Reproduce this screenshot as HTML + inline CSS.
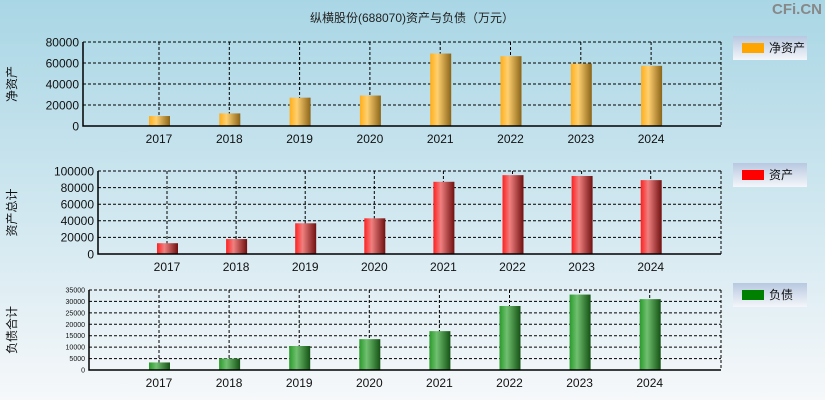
<!DOCTYPE html>
<html><head><meta charset="utf-8"><style>
html,body{margin:0;padding:0;width:825px;height:400px;overflow:hidden}
body{background:linear-gradient(#a9d6e5 0%,#d2e8f0 55%,#f6f8fa 100%);font-family:"Liberation Sans","Noto Sans CJK SC",sans-serif}
</style></head><body>
<svg id="c" width="825" height="400" xmlns="http://www.w3.org/2000/svg" style="position:absolute;left:0;top:0">
<defs>
<linearGradient id="gO" x1="0" x2="1"><stop offset="0" stop-color="#ffae1a"/><stop offset="0.35" stop-color="#ffd070"/><stop offset="1" stop-color="#8a6418"/></linearGradient>
<linearGradient id="gR" x1="0" x2="1"><stop offset="0" stop-color="#ff2020"/><stop offset="0.35" stop-color="#f08080"/><stop offset="1" stop-color="#701010"/></linearGradient>
<linearGradient id="gG" x1="0" x2="1"><stop offset="0" stop-color="#2a9a2a"/><stop offset="0.35" stop-color="#70c070"/><stop offset="1" stop-color="#145214"/></linearGradient>
<linearGradient id="gL" x1="0" y1="0" x2="0" y2="1"><stop offset="0" stop-color="#b8c8e0"/><stop offset="1" stop-color="#f4f6fa"/></linearGradient>
</defs>
<text x="412" y="22" font-size="12" text-anchor="middle" fill="#222">纵横股份(688070)资产与负债（万元）</text>
<text x="822" y="14" font-size="15" font-weight="bold" text-anchor="end" fill="#888">CFi.CN</text>
</svg>
<script>
const years=["2017","2018","2019","2020","2021","2022","2023","2024"];
const netAssets=[9500,12000,27000,29000,69000,66500,59500,57300];
const totalAssets=[13000,18000,37000,43000,87000,95000,94000,89000];
const liabilities=[3300,5000,10500,13500,17000,28000,33000,31000];
const ticks1=[0,20000,40000,60000,80000];
const ticks2=[0,20000,40000,60000,80000,100000];
const ticks3=[0,5000,10000,15000,20000,25000,30000,35000];
const svg=document.getElementById('c');
const NS='http://www.w3.org/2000/svg';
function mk(t,a,p){const e=document.createElementNS(NS,t);for(const k in a)e.setAttribute(k,a[k]);(p||svg).appendChild(e);return e;}
function panel(o){
  const g=mk('g',{});
  
  
  const max=o.ticks[o.ticks.length-1];
  const y=v=>o.bottom-(v/max)*(o.bottom-o.top);
  const step=(o.right-o.left-o.first+o.left)/1;
  const x=i=>o.first+i*o.gap;
  o.ticks.forEach(t=>{
    if(t>0){const l=mk('line',{x1:o.left,x2:o.right,y1:y(t),y2:y(t),stroke:'#000','stroke-dasharray':'3,2'},g);
    }
    const tx=mk('text',{x:o.left-4,y:y(t)+o.fs/2.8,'font-size':o.fs,'text-anchor':'end',fill:'#111'},g);
    tx.textContent=t;
    
  });
  years.forEach((yr,i)=>{
    const l=mk('line',{x1:x(i),x2:x(i),y1:o.top,y2:o.bottom,stroke:'#000','stroke-dasharray':'3,2'},g);
    
    const v=o.data[i];
    const b=mk('rect',{x:x(i)-10,y:y(v),width:21,height:o.bottom-y(v),fill:o.fill},g);
    
    const t=mk('text',{x:x(i),y:o.bottom+17,'font-size':12,'text-anchor':'middle',fill:'#111'},g);
    t.textContent=yr;
    
  });
  const r=mk('line',{x1:o.right,x2:o.right,y1:o.top,y2:o.bottom,stroke:'#000','stroke-dasharray':'3,2'},g);
  
  const t=mk('line',{x1:o.left,x2:o.right,y1:o.top,y2:o.top,stroke:'#000','stroke-dasharray':'3,2'},g);
  
  const ax=mk('path',{d:`M${o.left} ${o.top}V${o.bottom}H${o.right}`,stroke:'#000',fill:'none','stroke-width':1.5},g);
  
  const yt=mk('text',{x:0,y:0,'font-size':12,'text-anchor':'middle',fill:'#111',transform:`translate(${o.ytx},${(o.top+o.bottom)/2}) rotate(-90)`},g);
  yt.textContent=o.ytitle;
  
  const lg=mk('g',{},g);
  
  mk('rect',{x:733,y:o.ly,width:74,height:24,fill:'url(#gL)'},lg);
  mk('rect',{x:742,y:o.ly+7,width:22,height:10,fill:o.sw},lg);
  const lt=mk('text',{x:769,y:o.ly+16,'font-size':12,fill:'#111'},lg);
  lt.textContent=o.label;
}
panel({name:'net-assets',data:netAssets,ticks:ticks1,left:83,right:721,top:42,bottom:126,first:159,gap:70.3,fill:'url(#gO)',fs:12,ytitle:'净资产',ytx:16,ly:36,sw:'#ffa500',label:'净资产'});
panel({name:'total-assets',data:totalAssets,ticks:ticks2,left:98,right:721,top:171,bottom:254,first:167,gap:69.1,fill:'url(#gR)',fs:12,ytitle:'资产总计',ytx:16,ly:163,sw:'#ff0000',label:'资产'});
panel({name:'liabilities',data:liabilities,ticks:ticks3,left:89,right:721,top:290,bottom:370,first:159,gap:70.1,fill:'url(#gG)',fs:7,ytitle:'负债合计',ytx:16,ly:283,sw:'#008000',label:'负债'});
</script>
</body></html>
